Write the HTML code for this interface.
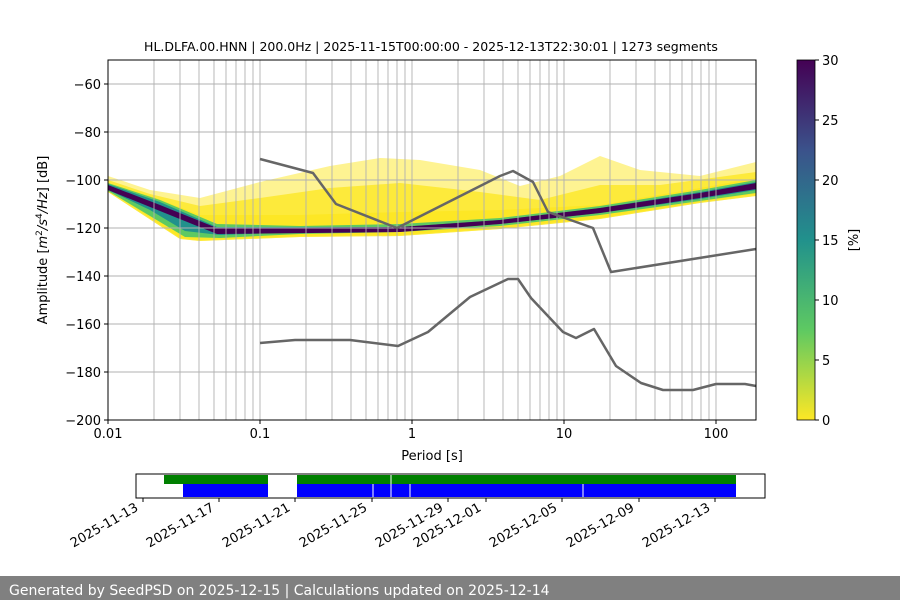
<!DOCTYPE html>
<html><head><meta charset="utf-8"><style>
body{margin:0;background:#fff;}
svg{display:block;font-family:"DejaVu Sans","Liberation Sans",sans-serif;}
</style></head><body>
<svg width="900" height="600" viewBox="0 0 900 600" xmlns="http://www.w3.org/2000/svg">
<defs>
<linearGradient id="vir" x1="0" y1="1" x2="0" y2="0">
<stop offset="0" stop-color="#fde725"/><stop offset="0.25" stop-color="#5ec962"/>
<stop offset="0.5" stop-color="#21918c"/><stop offset="0.75" stop-color="#3b528b"/>
<stop offset="1" stop-color="#440154"/></linearGradient>
<clipPath id="ax"><rect x="108" y="60" width="648" height="360"/></clipPath>
</defs>
<text x="431" y="51" font-size="12.5" text-anchor="middle">HL.DLFA.00.HNN | 200.0Hz | 2025-11-15T00:00:00 - 2025-12-13T22:30:01 | 1273 segments</text>
<g clip-path="url(#ax)">
<path d="M108,176 L150,190 L200,198 L260,182 L330,166 L380,158 L420,160 L480,170 L520,186 L560,176 L600,156 L640,170 L700,176 L756,162 L756,196 L700,203 L600,219 L500,229 L400,236 L300,237 L200,241 L180,239 L108,192Z" fill="#fde725" opacity="0.5"/>
<path d="M108,180 L150,194 L200,206 L260,198 L330,188 L400,183 L480,192 L540,200 L600,185 L660,185 L756,172 L756,196 L700,203 L600,219 L500,229 L400,236 L300,237 L200,241 L180,239 L108,192Z" fill="#fde725" opacity="0.8"/>
<path d="M108,183 L150,196 L200,215 L300,215 L400,212 L500,210 L600,205 L700,188 L756,178 L756,194 L700,202 L600,218 L500,228 L400,235 L300,236 L200,240 L180,238 L108,190Z" fill="#fde725"/>
<path d="M108,183 L160,200 L217,224 L300,226 L400,224 L500,218 L600,206 L700,190 L756,180 L756,193 L700,201 L600,215 L500,226 L400,232 L300,234 L220,238 L185,237 L150,216 L108,191Z" fill="#5ec962"/>
<path d="M108,184 L160,202 L217,227 L400,227 L500,220 L600,208 L700,192 L756,182 L756,190 L700,199 L600,213 L500,224 L400,231 L300,232 L220,235 L185,231 L150,210 L108,190Z" fill="#21918c"/>
<path d="M108,185 L160,205 L217,228 L400,227 L500,220 L600,208 L700,193 L756,183 L756,189 L700,198 L600,213 L500,224 L400,232 L217,234 L160,211 L108,190Z" fill="#440154"/>
</g>
<g stroke="#b0b0b0" stroke-width="0.9">
<line x1="154" y1="60" x2="154" y2="420"/><line x1="180" y1="60" x2="180" y2="420"/><line x1="199" y1="60" x2="199" y2="420"/><line x1="214" y1="60" x2="214" y2="420"/><line x1="226" y1="60" x2="226" y2="420"/><line x1="236" y1="60" x2="236" y2="420"/><line x1="245" y1="60" x2="245" y2="420"/><line x1="253" y1="60" x2="253" y2="420"/><line x1="260" y1="60" x2="260" y2="420"/>
<line x1="306" y1="60" x2="306" y2="420"/><line x1="332" y1="60" x2="332" y2="420"/><line x1="351" y1="60" x2="351" y2="420"/><line x1="366" y1="60" x2="366" y2="420"/><line x1="378" y1="60" x2="378" y2="420"/><line x1="388" y1="60" x2="388" y2="420"/><line x1="397" y1="60" x2="397" y2="420"/><line x1="405" y1="60" x2="405" y2="420"/><line x1="412" y1="60" x2="412" y2="420"/>
<line x1="458" y1="60" x2="458" y2="420"/><line x1="484" y1="60" x2="484" y2="420"/><line x1="503" y1="60" x2="503" y2="420"/><line x1="518" y1="60" x2="518" y2="420"/><line x1="530" y1="60" x2="530" y2="420"/><line x1="540" y1="60" x2="540" y2="420"/><line x1="549" y1="60" x2="549" y2="420"/><line x1="557" y1="60" x2="557" y2="420"/><line x1="564" y1="60" x2="564" y2="420"/>
<line x1="610" y1="60" x2="610" y2="420"/><line x1="636" y1="60" x2="636" y2="420"/><line x1="655" y1="60" x2="655" y2="420"/><line x1="670" y1="60" x2="670" y2="420"/><line x1="682" y1="60" x2="682" y2="420"/><line x1="692" y1="60" x2="692" y2="420"/><line x1="701" y1="60" x2="701" y2="420"/><line x1="709" y1="60" x2="709" y2="420"/><line x1="716" y1="60" x2="716" y2="420"/>
<line x1="108" y1="84" x2="756" y2="84"/><line x1="108" y1="132" x2="756" y2="132"/><line x1="108" y1="180" x2="756" y2="180"/><line x1="108" y1="228" x2="756" y2="228"/><line x1="108" y1="276" x2="756" y2="276"/><line x1="108" y1="324" x2="756" y2="324"/><line x1="108" y1="372" x2="756" y2="372"/>
</g>
<g fill="none" stroke="#666" stroke-width="2.5" stroke-linejoin="round">
<polyline points="260,159 313,173 336,204 397,228 500,176 513,171 533,182 548,212 593,228 611,272 756,249"/>
<polyline points="260,343 295,340 350,340 398,346 428,332 470,297 508,279 518,279 531,298 563,332 576,338 594,329 616,366 641,383 663,390 693,390 716,384 745,384 756,386"/>
</g>
<rect x="108" y="60" width="648" height="360" fill="none" stroke="#000" stroke-width="1"/>
<g stroke="#000"><line x1="104" y1="84" x2="108" y2="84"/><line x1="104" y1="132" x2="108" y2="132"/><line x1="104" y1="180" x2="108" y2="180"/><line x1="104" y1="228" x2="108" y2="228"/><line x1="104" y1="276" x2="108" y2="276"/><line x1="104" y1="324" x2="108" y2="324"/><line x1="104" y1="372" x2="108" y2="372"/><line x1="104" y1="420" x2="108" y2="420"/>
<line x1="108" y1="420" x2="108" y2="424"/><line x1="260" y1="420" x2="260" y2="424"/><line x1="412" y1="420" x2="412" y2="424"/><line x1="564" y1="420" x2="564" y2="424"/><line x1="716" y1="420" x2="716" y2="424"/></g>
<g font-size="13" text-anchor="end">
<text x="101" y="89">−60</text><text x="101" y="137">−80</text><text x="101" y="185">−100</text><text x="101" y="233">−120</text><text x="101" y="281">−140</text><text x="101" y="329">−160</text><text x="101" y="377">−180</text><text x="101" y="425">−200</text></g>
<g font-size="13" text-anchor="middle"><text x="108" y="438">0.01</text><text x="260" y="438">0.1</text><text x="412" y="438">1</text><text x="564" y="438">10</text><text x="716" y="438">100</text>
<text x="432" y="460">Period [s]</text></g>
<text transform="translate(47,240) rotate(-90)" font-size="13" text-anchor="middle">Amplitude [<tspan font-style="italic">m</tspan><tspan font-size="9" dy="-5">2</tspan><tspan dy="5" font-style="italic">/s</tspan><tspan font-size="9" dy="-5">4</tspan><tspan dy="5" font-style="italic">/Hz</tspan>] [dB]</text>
<rect x="797" y="60" width="18" height="360" fill="url(#vir)"/>
<rect x="797" y="60" width="18" height="360" fill="none" stroke="#000" stroke-width="0.8"/>
<g stroke="#000"><line x1="815" y1="60" x2="819" y2="60"/><line x1="815" y1="120" x2="819" y2="120"/><line x1="815" y1="180" x2="819" y2="180"/><line x1="815" y1="240" x2="819" y2="240"/><line x1="815" y1="300" x2="819" y2="300"/><line x1="815" y1="360" x2="819" y2="360"/><line x1="815" y1="420" x2="819" y2="420"/></g>
<g font-size="13"><text x="822" y="65">30</text><text x="822" y="125">25</text><text x="822" y="185">20</text><text x="822" y="245">15</text><text x="822" y="305">10</text><text x="822" y="365">5</text><text x="822" y="425">0</text></g>
<text transform="translate(858,240) rotate(-90)" font-size="13" text-anchor="middle">[%]</text>
<rect x="164" y="475" width="104" height="9" fill="#008000"/>
<rect x="297" y="475" width="439" height="9" fill="#008000"/>
<rect x="183" y="484" width="85" height="13" fill="#0000ff"/>
<rect x="297" y="484" width="439" height="13" fill="#0000ff"/>
<g stroke="#fff" stroke-width="1"><line x1="373" y1="484" x2="373" y2="497"/><line x1="391" y1="475" x2="391" y2="497"/><line x1="410" y1="484" x2="410" y2="497"/><line x1="583" y1="484" x2="583" y2="497"/></g>
<rect x="136" y="474" width="629" height="24" fill="none" stroke="#000" stroke-width="1"/>
<g stroke="#000"><line x1="143" y1="498" x2="143" y2="502"/><line x1="219" y1="498" x2="219" y2="502"/><line x1="295" y1="498" x2="295" y2="502"/><line x1="372" y1="498" x2="372" y2="502"/><line x1="448" y1="498" x2="448" y2="502"/><line x1="486" y1="498" x2="486" y2="502"/><line x1="562" y1="498" x2="562" y2="502"/><line x1="639" y1="498" x2="639" y2="502"/><line x1="715" y1="498" x2="715" y2="502"/></g>
<g font-size="13" text-anchor="end">
<text transform="translate(139,510) rotate(-30)">2025-11-13</text>
<text transform="translate(215,510) rotate(-30)">2025-11-17</text>
<text transform="translate(291,510) rotate(-30)">2025-11-21</text>
<text transform="translate(368,510) rotate(-30)">2025-11-25</text>
<text transform="translate(444,510) rotate(-30)">2025-11-29</text>
<text transform="translate(482,510) rotate(-30)">2025-12-01</text>
<text transform="translate(558,510) rotate(-30)">2025-12-05</text>
<text transform="translate(635,510) rotate(-30)">2025-12-09</text>
<text transform="translate(711,510) rotate(-30)">2025-12-13</text>
</g>
<rect x="0" y="576" width="900" height="24" fill="#808080"/>
<text x="9" y="595" font-size="14" fill="#fff">Generated by SeedPSD on 2025-12-15 | Calculations updated on 2025-12-14</text>
</svg>
</body></html>
